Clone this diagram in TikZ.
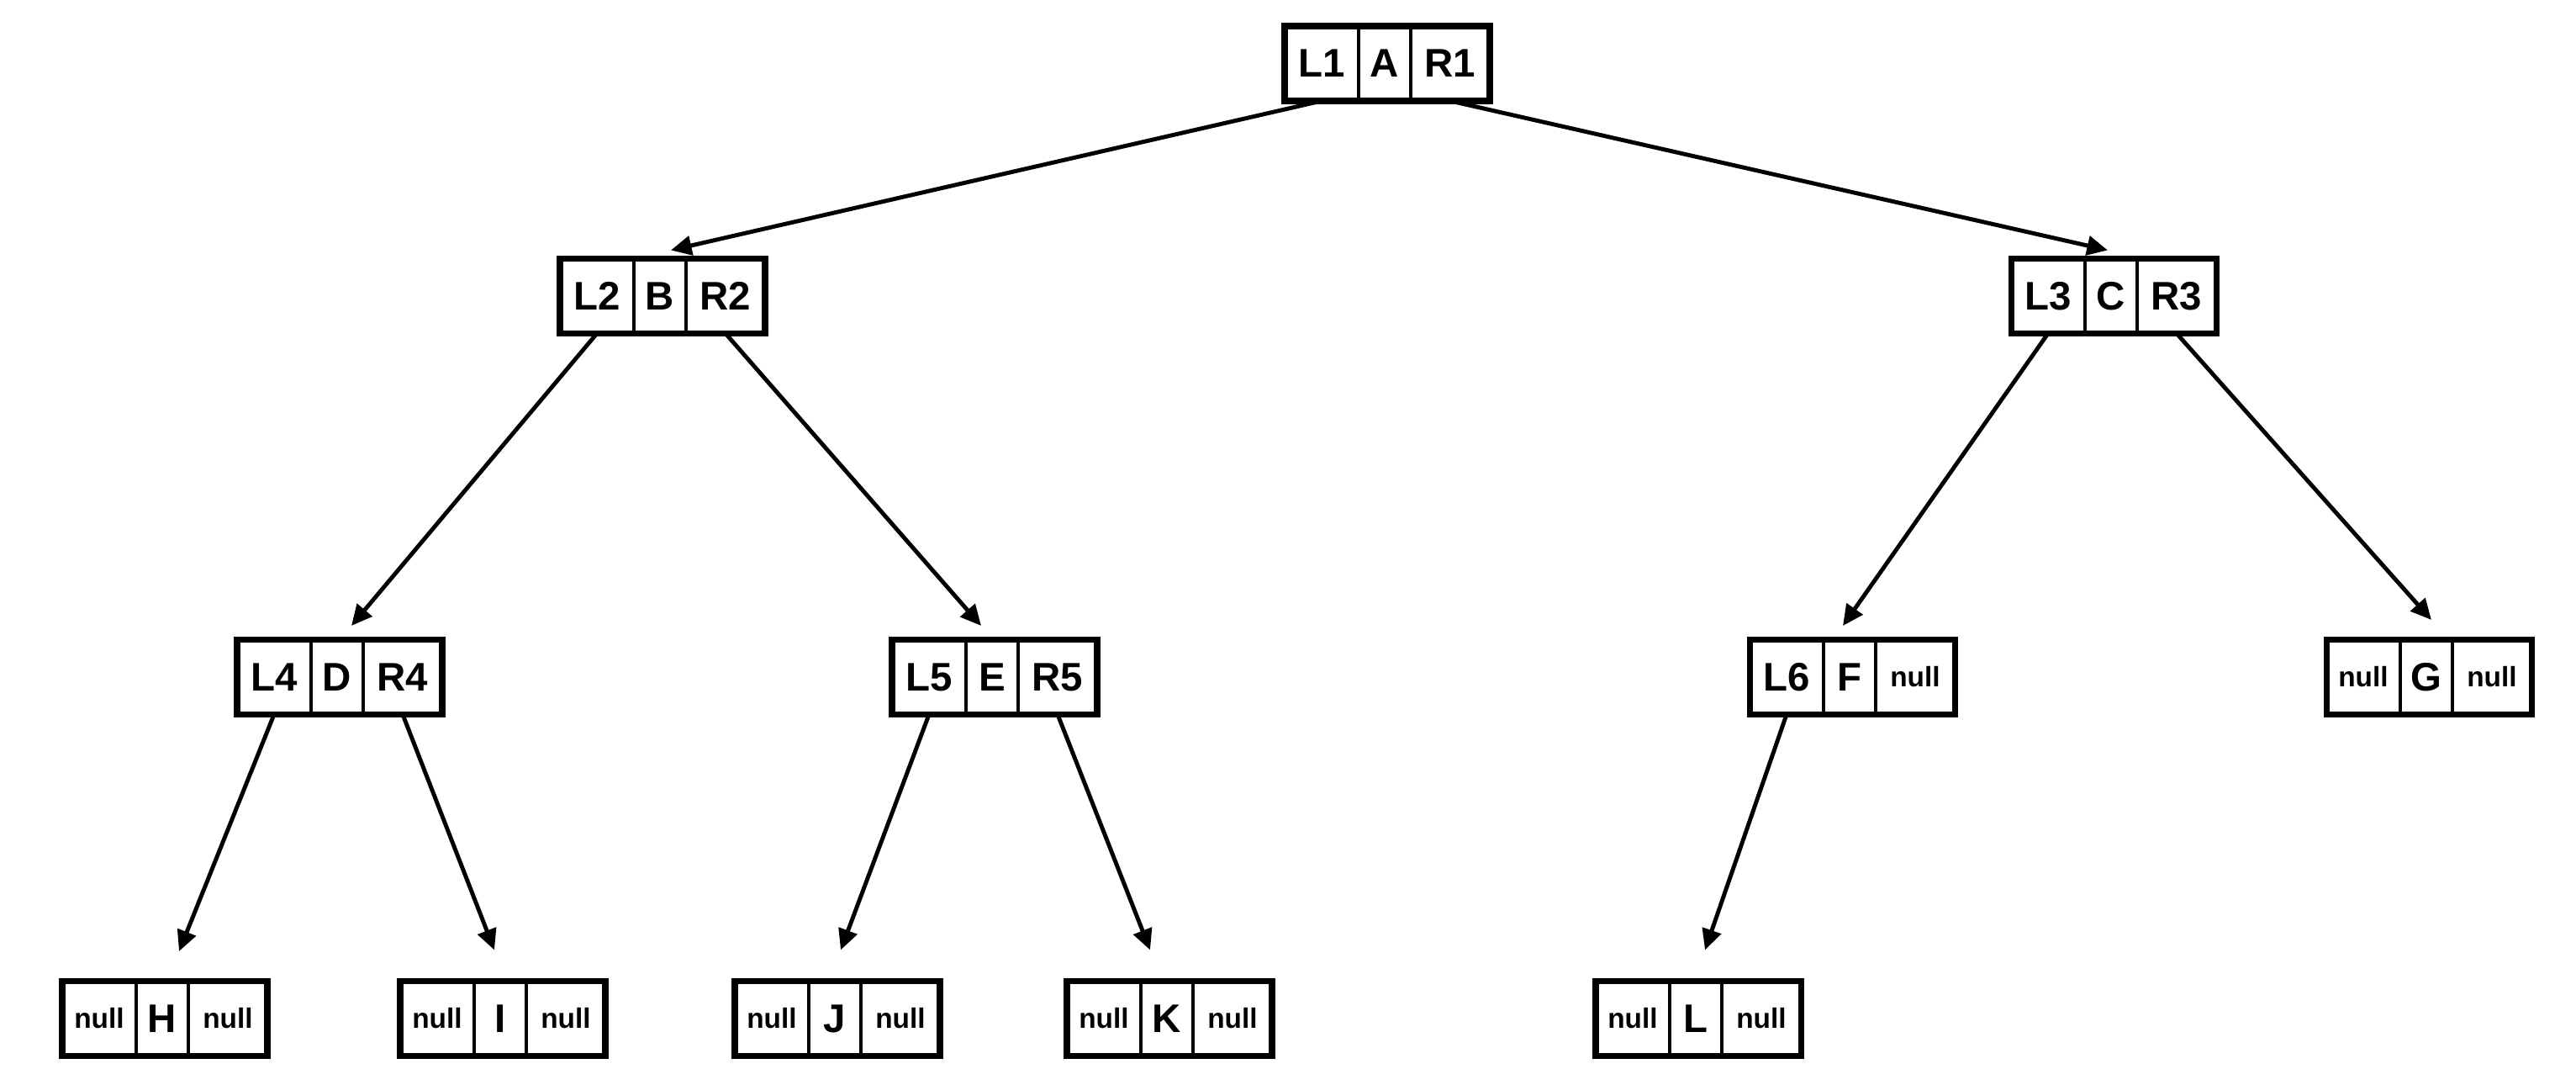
\documentclass[tikz,border=0pt]{standalone}
\usepackage{fontspec}
\setmainfont{Liberation Sans}
\usepackage{tikz}
\usetikzlibrary{arrows.meta, positioning}
\tikzstyle{cell} = [
    rectangle,
    draw=black,
    line width=1.3pt,
    inner sep=0pt,
    outer sep=0pt,
    minimum height=0.89cm,
    text centered,
    font=\fontsize{13.5}{16}\selectfont\bfseries
]
\tikzstyle{midcell} = [cell, minimum width=0.62cm]
\tikzstyle{leftcell} = [cell, minimum width=0.88cm]
\tikzstyle{rightcell} = [cell, minimum width=0.94cm]
\tikzstyle{nullcell} = [font=\fontsize{9.5}{11}\selectfont\bfseries]
\tikzstyle{frame} = [
    line width=2pt,
    draw=black
]
\tikzset{
    >={Triangle[length=7pt,width=6.5pt]}
}
\tikzstyle{arrow} = [
    line width=1.4pt,
    ->,
    draw=black
]

\begin{document}
\begin{tikzpicture}
\useasboundingbox (0,0) rectangle (30.64,12.90);

% Nodes
\node (a) [midcell] at (16.47,12.145) {A};
\node (a-l) [leftcell, left=0pt of a] {L1};
\node (a-r) [rightcell, right=0pt of a] {R1};
\draw [frame] (a-l.north west) rectangle (a-r.south east);

\node (b) [midcell] at (7.85,9.38) {B};
\node (b-l) [leftcell, left=0pt of b] {L2};
\node (b-r) [rightcell, right=0pt of b] {R2};
\draw [frame] (b-l.north west) rectangle (b-r.south east);

\node (c) [midcell] at (25.11,9.38) {C};
\node (c-l) [leftcell, left=0pt of c] {L3};
\node (c-r) [rightcell, right=0pt of c] {R3};
\draw [frame] (c-l.north west) rectangle (c-r.south east);

\node (d) [midcell] at (4.01,4.85) {D};
\node (d-l) [leftcell, left=0pt of d] {L4};
\node (d-r) [rightcell, right=0pt of d] {R4};
\draw [frame] (d-l.north west) rectangle (d-r.south east);

\node (e) [midcell] at (11.80,4.85) {E};
\node (e-l) [leftcell, left=0pt of e] {L5};
\node (e-r) [rightcell, right=0pt of e] {R5};
\draw [frame] (e-l.north west) rectangle (e-r.south east);

\node (f) [midcell] at (22.00,4.85) {F};
\node (f-l) [leftcell, left=0pt of f] {L6};
\node (f-r) [rightcell, nullcell, right=0pt of f] {null};
\draw [frame] (f-l.north west) rectangle (f-r.south east);

\node (g) [midcell] at (28.86,4.85) {G};
\node (g-l) [leftcell, nullcell, left=0pt of g] {null};
\node (g-r) [rightcell, nullcell, right=0pt of g] {null};
\draw [frame] (g-l.north west) rectangle (g-r.south east);

\node (h) [midcell] at (1.93,0.79) {H};
\node (h-l) [leftcell, nullcell, left=0pt of h] {null};
\node (h-r) [rightcell, nullcell, right=0pt of h] {null};
\draw [frame] (h-l.north west) rectangle (h-r.south east);

\node (i) [midcell] at (5.95,0.79) {I};
\node (i-l) [leftcell, nullcell, left=0pt of i] {null};
\node (i-r) [rightcell, nullcell, right=0pt of i] {null};
\draw [frame] (i-l.north west) rectangle (i-r.south east);

\node (j) [midcell] at (9.93,0.79) {J};
\node (j-l) [leftcell, nullcell, left=0pt of j] {null};
\node (j-r) [rightcell, nullcell, right=0pt of j] {null};
\draw [frame] (j-l.north west) rectangle (j-r.south east);

\node (k) [midcell] at (13.88,0.79) {K};
\node (k-l) [leftcell, nullcell, left=0pt of k] {null};
\node (k-r) [rightcell, nullcell, right=0pt of k] {null};
\draw [frame] (k-l.north west) rectangle (k-r.south east);

\node (l) [midcell] at (20.17,0.79) {L};
\node (l-l) [leftcell, nullcell, left=0pt of l] {null};
\node (l-r) [rightcell, nullcell, right=0pt of l] {null};
\draw [frame] (l-l.north west) rectangle (l-r.south east);

% Arrows
\draw [arrow] (a-l.south) -- ([shift={(0.13,0.10)}]b.north);

\draw [arrow] (a-r.south) -- ([shift={(-0.04,0.10)}]c.north);

\draw [arrow] (b-l.south) -- ([shift={(0.17,0.165)}]d.north);

\draw [arrow] (b-r.south) -- ([shift={(-0.13,0.165)}]e.north);

\draw [arrow] (c-l.south) -- ([shift={(-0.08,0.165)}]f.north);

\draw [arrow] (c-r.south) -- ([shift={(0.06,0.235)}]g.north);

\draw [arrow] (d-l.south) -- ([shift={(0.20,0.355)}]h.north);

\draw [arrow] (d-r.south) -- ([shift={(-0.07,0.37)}]i.north);

\draw [arrow] (e-l.south) -- ([shift={(0.07,0.37)}]j.north);

\draw [arrow] (e-r.south) -- ([shift={(-0.20,0.37)}]k.north);

\draw [arrow] (f-l.south) -- ([shift={(0.11,0.37)}]l.north);

\end{tikzpicture}
\end{document}
